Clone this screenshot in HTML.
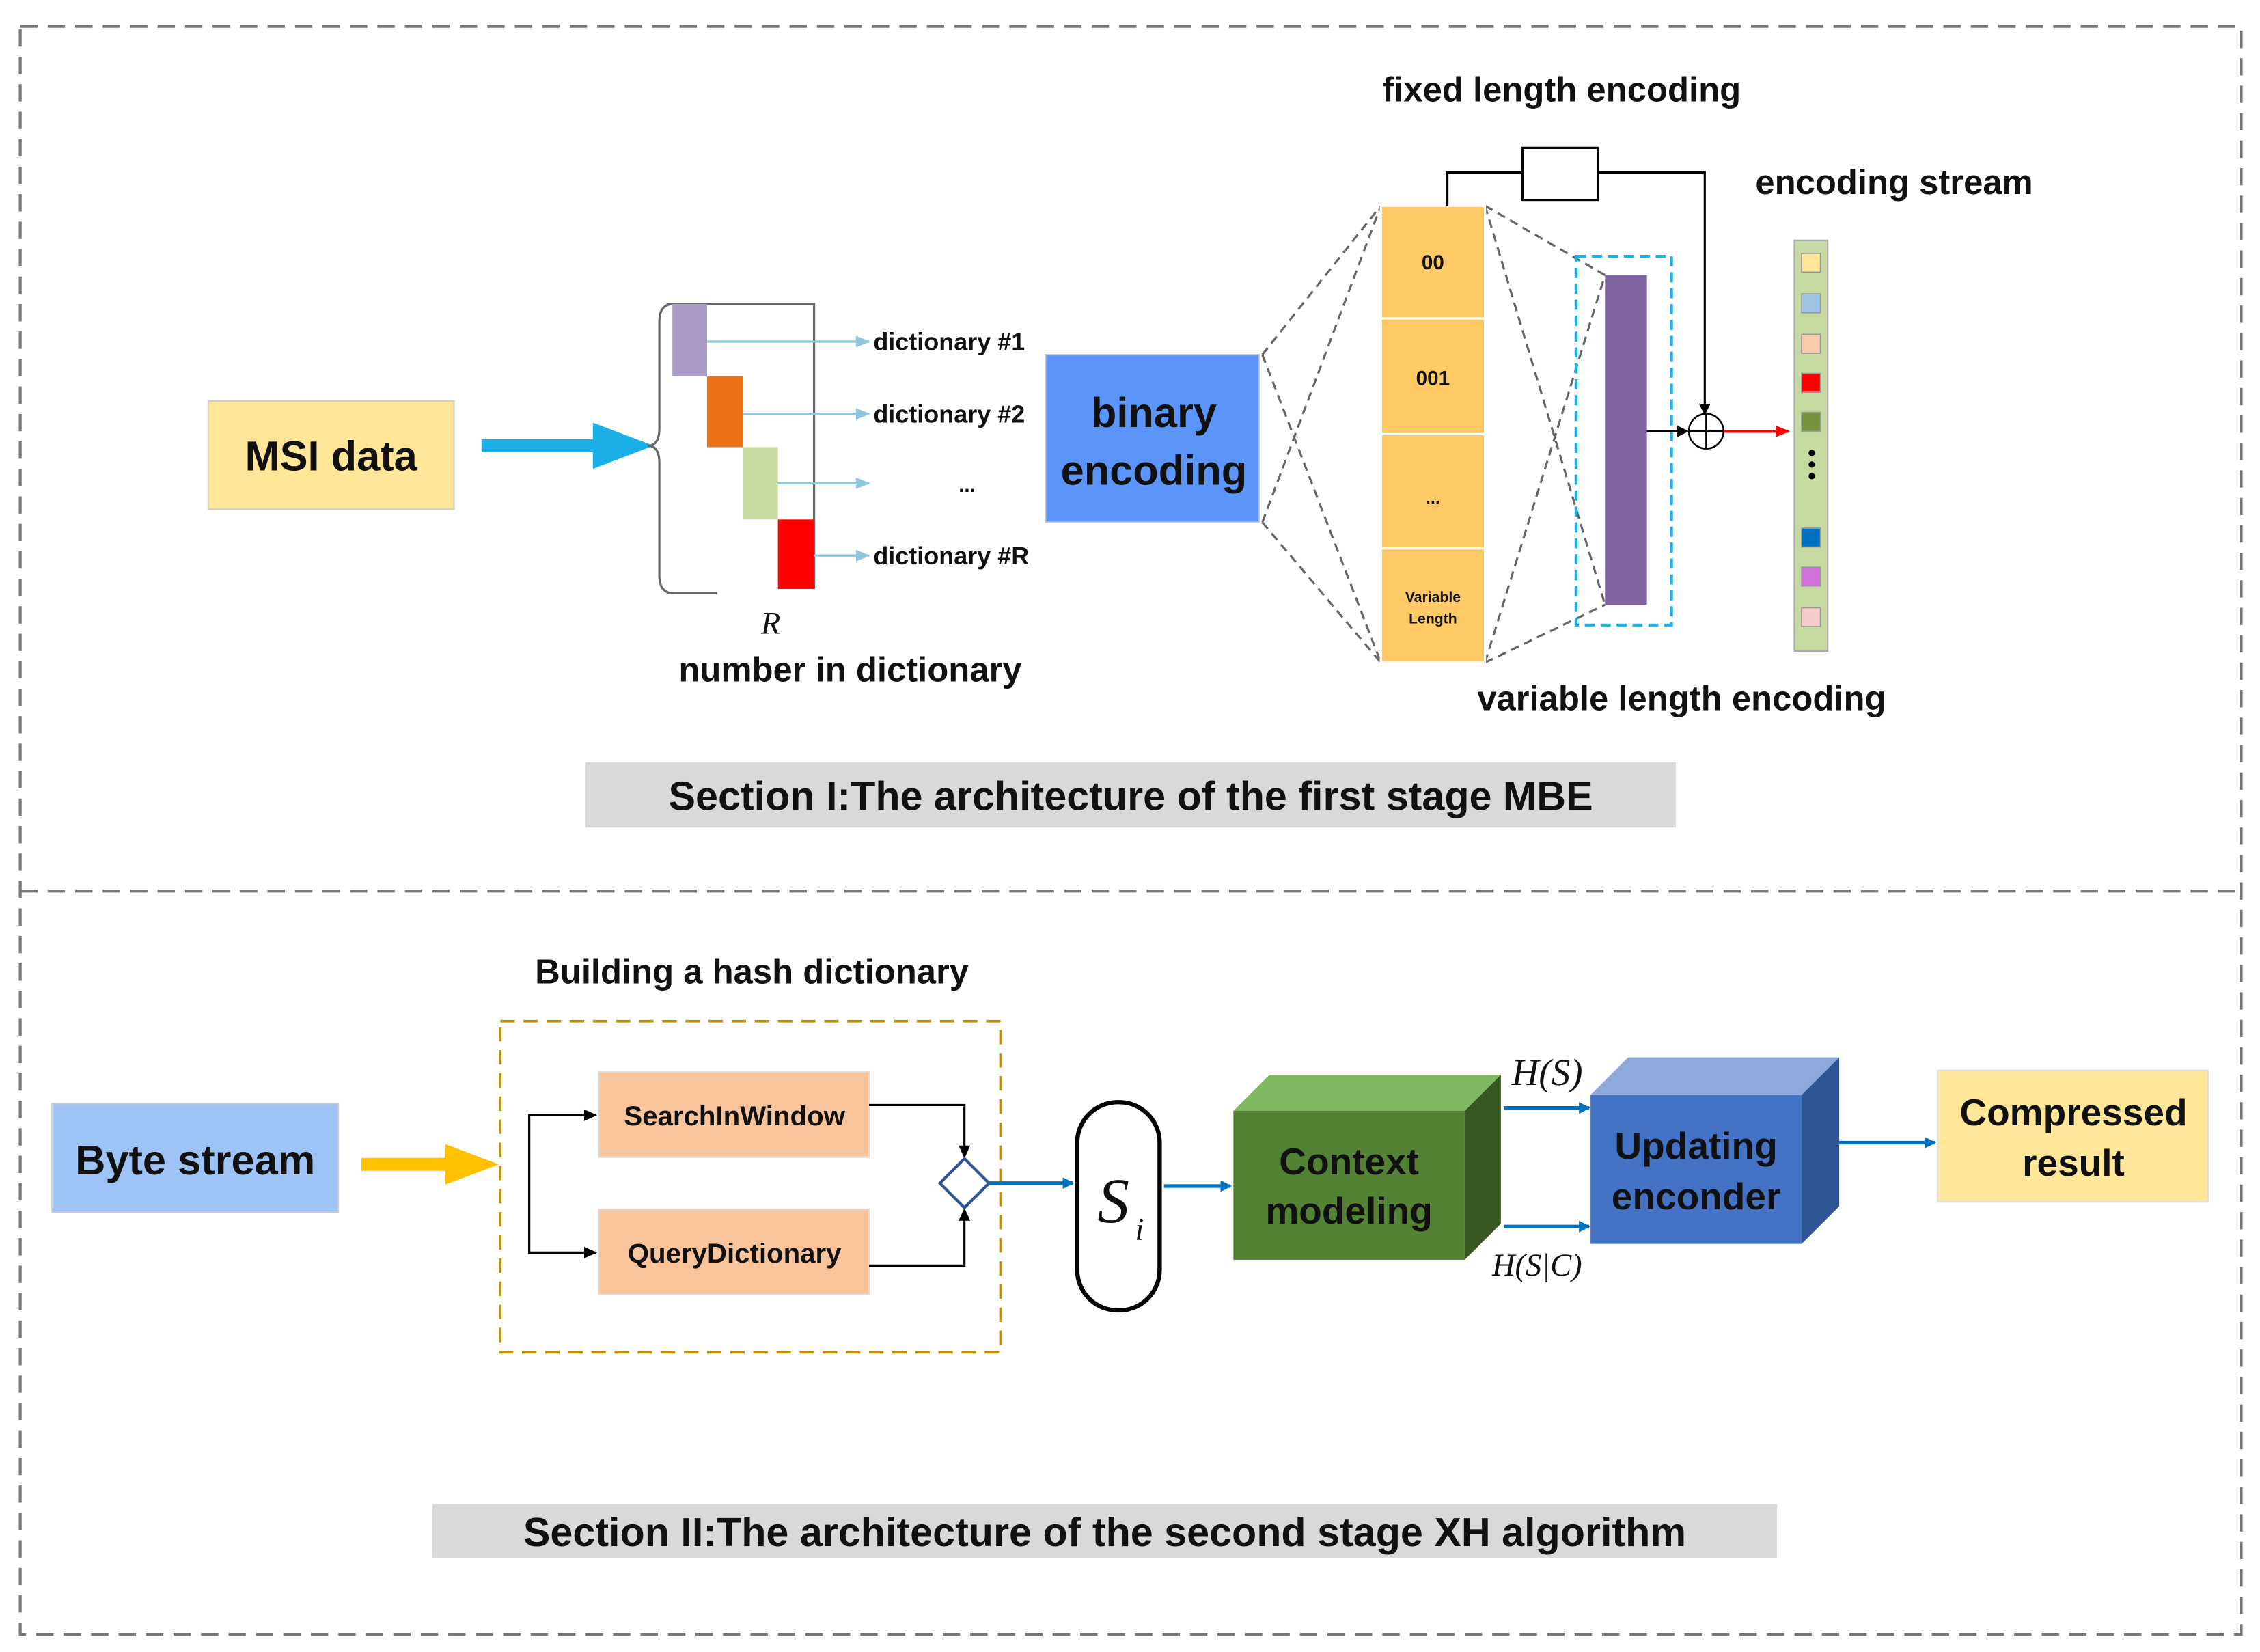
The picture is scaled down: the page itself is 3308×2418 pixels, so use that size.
<!DOCTYPE html>
<html><head><meta charset="utf-8"><style>
html,body{margin:0;padding:0;background:#fff;}
svg{display:block;}
text{font-family:"Liberation Sans",sans-serif;font-weight:bold;fill:#111;}
.s{font-family:"Liberation Serif",serif;font-style:italic;font-weight:normal;}
</style></head><body>
<svg width="3308" height="2418" viewBox="0 0 1563 1142" xmlns="http://www.w3.org/2000/svg">
<defs>
<marker id="ab" markerWidth="8" markerHeight="8" refX="7" refY="4" orient="auto" markerUnits="userSpaceOnUse"><path d="M0,0L8,4L0,8z" fill="#0070C0"/></marker>
<marker id="lb" markerWidth="10" markerHeight="8" refX="9" refY="4" orient="auto" markerUnits="userSpaceOnUse"><path d="M0,0L10,4L0,8z" fill="#8CC8DC"/></marker>
<marker id="bk" markerWidth="8" markerHeight="8" refX="7" refY="4" orient="auto" markerUnits="userSpaceOnUse"><path d="M0,0L8,4L0,8z" fill="#000"/></marker>
<marker id="rd" markerWidth="10" markerHeight="8" refX="9" refY="4" orient="auto" markerUnits="userSpaceOnUse"><path d="M0,0L10,4L0,8z" fill="#f00"/></marker>
</defs>
<rect x="14" y="18" width="1536" height="1112" fill="none" stroke="#777" stroke-width="2" stroke-dasharray="12,7"/>
<line x1="14" y1="616" x2="1550" y2="616" stroke="#777" stroke-width="2" stroke-dasharray="12,7"/>

<!-- Section I -->
<rect x="144" y="277" width="170" height="75" fill="#FFE699" stroke="#ccc"/>
<text x="229" y="325" font-size="29" text-anchor="middle">MSI data</text>
<line x1="333" y1="308" x2="420" y2="308" stroke="#1AAFE6" stroke-width="9"/>
<path d="M410,292L452,308L410,324z" fill="#1AAFE6"/>
<path d="M466,210 Q456,210 456,222 L456,296 Q456,308 448,308 Q456,308 456,320 L456,398 Q456,410 466,410" fill="none" stroke="#666" stroke-width="1.5"/>
<path d="M461,210H563V407 M461,410H496" fill="none" stroke="#666" stroke-width="1.5"/>
<rect x="465" y="210" width="24" height="50" fill="#A99BC5"/>
<rect x="489" y="260" width="25" height="49" fill="#E97316"/>
<rect x="514" y="309" width="24" height="50" fill="#C5D9A0"/>
<rect x="538" y="359" width="25" height="48" fill="#FF0000"/>
<g stroke="#8CC8DC" stroke-width="1.5" marker-end="url(#lb)">
<line x1="489" y1="236" x2="601" y2="236"/><line x1="514" y1="286" x2="601" y2="286"/>
<line x1="538" y1="334" x2="601" y2="334"/><line x1="563" y1="384" x2="601" y2="384"/></g>
<text x="604" y="242" font-size="17">dictionary #1</text>
<text x="604" y="292" font-size="17">dictionary #2</text>
<text x="663" y="340" font-size="14">...</text>
<text x="604" y="390" font-size="17">dictionary #R</text>
<text x="533" y="438" font-size="22" class="s" text-anchor="middle">R</text>
<text x="588" y="471" font-size="24" text-anchor="middle">number in dictionary</text>

<rect x="723" y="245" width="148" height="116" fill="#5B95F9" stroke="#ccc"/>
<text x="798" y="295" font-size="29" text-anchor="middle">binary</text>
<text x="798" y="335" font-size="29" text-anchor="middle">encoding</text>
<g stroke="#666" stroke-width="1.5" stroke-dasharray="6,4">
<line x1="873" y1="245" x2="955" y2="142"/><line x1="873" y1="361" x2="955" y2="458"/>
<line x1="873" y1="245" x2="955" y2="458"/><line x1="873" y1="361" x2="955" y2="142"/>
<line x1="1027" y1="142" x2="1110" y2="190"/><line x1="1027" y1="458" x2="1110" y2="418"/>
<line x1="1027" y1="142" x2="1110" y2="418"/><line x1="1027" y1="458" x2="1110" y2="190"/>
</g>
<g fill="#FFC966" stroke="#fff" stroke-width="1.5">
<rect x="955" y="142" width="72" height="78"/><rect x="955" y="220" width="72" height="80"/>
<rect x="955" y="300" width="72" height="79"/><rect x="955" y="379" width="72" height="79"/></g>
<text x="991" y="186" font-size="14" text-anchor="middle">00</text>
<text x="991" y="266" font-size="14" text-anchor="middle">001</text>
<text x="991" y="348" font-size="12" text-anchor="middle" font-weight="normal">...</text>
<text x="991" y="416" font-size="10" text-anchor="middle">Variable</text>
<text x="991" y="431" font-size="10" text-anchor="middle">Length</text>

<rect x="1090" y="177" width="66" height="255" fill="none" stroke="#1AAFE6" stroke-width="2" stroke-dasharray="7,4"/>
<rect x="1110" y="190" width="29" height="228" fill="#8064A2"/>
<path d="M1001,142V119H1053 M1105,119H1179V286" fill="none" stroke="#000" stroke-width="1.5" marker-end="url(#bk)"/>
<rect x="1053" y="102" width="52" height="36" fill="#fff" stroke="#000" stroke-width="1.5"/>
<circle cx="1180" cy="298" r="12" fill="#fff" stroke="#000" stroke-width="1.2"/>
<path d="M1168,298H1192M1180,286V310" stroke="#000" stroke-width="1.2"/>
<line x1="1139" y1="298" x2="1167" y2="298" stroke="#000" stroke-width="1.5" marker-end="url(#bk)"/>
<line x1="1192" y1="298" x2="1237" y2="298" stroke="#f00" stroke-width="2" marker-end="url(#rd)"/>
<rect x="1241" y="166" width="23" height="284" fill="#C5D9A0" stroke="#aaa"/>
<g stroke="#999" stroke-width="0.8">
<rect x="1246" y="175" width="13" height="13" fill="#FFE699"/><rect x="1246" y="203" width="13" height="13" fill="#9DC3E6"/>
<rect x="1246" y="231" width="13" height="13" fill="#F8CBAD"/><rect x="1246" y="258" width="13" height="13" fill="#FF0000"/>
<rect x="1246" y="285" width="13" height="13" fill="#76923C"/><rect x="1246" y="365" width="13" height="13" fill="#0070C0"/>
<rect x="1246" y="392" width="13" height="13" fill="#D070D8"/><rect x="1246" y="420" width="13" height="13" fill="#F8CBCB"/></g>
<circle cx="1253" cy="313" r="2.2" fill="#000"/><circle cx="1253" cy="321" r="2.2" fill="#000"/><circle cx="1253" cy="329" r="2.2" fill="#000"/>
<text x="1080" y="70" font-size="24" text-anchor="middle">fixed length encoding</text>
<text x="1310" y="134" font-size="24" text-anchor="middle">encoding stream</text>
<text x="1163" y="491" font-size="24" text-anchor="middle">variable length encoding</text>
<rect x="405" y="527" width="754" height="45" fill="#D9D9D9"/>
<text x="782" y="560" font-size="28" text-anchor="middle">Section I:The architecture of the first stage MBE</text>

<!-- Section II -->
<text x="520" y="680" font-size="24" text-anchor="middle">Building a hash dictionary</text>
<rect x="346" y="706" width="346" height="229" fill="none" stroke="#C09000" stroke-width="1.8" stroke-dasharray="10,6"/>
<rect x="36" y="763" width="198" height="75" fill="#9DC3F7" stroke="#ccc"/>
<text x="135" y="812" font-size="29" text-anchor="middle">Byte stream</text>
<line x1="250" y1="805" x2="315" y2="805" stroke="#FFC000" stroke-width="9"/>
<path d="M308,791L345,805L308,819z" fill="#FFC000"/>
<rect x="414" y="741" width="187" height="59" fill="#F8C49C" stroke="#ddd"/>
<text x="508" y="778" font-size="19" text-anchor="middle">SearchInWindow</text>
<rect x="414" y="836" width="187" height="59" fill="#F8C49C" stroke="#ddd"/>
<text x="508" y="873" font-size="19" text-anchor="middle">QueryDictionary</text>
<path d="M412,771H366V866H412" fill="none" stroke="#000" stroke-width="1.5"/>
<path d="M404,767L413,771L404,775zM404,862L413,866L404,870z" fill="#000"/>
<path d="M601,764H667V799 M601,875H667V837" fill="none" stroke="#000" stroke-width="1.5"/>
<path d="M663,792L667,801L671,792zM663,844L667,835L671,844z" fill="#000"/>
<path d="M667,801L684,818L667,835L650,818z" fill="#fff" stroke="#2F5597" stroke-width="2"/>
<line x1="684" y1="818" x2="742" y2="818" stroke="#0070C0" stroke-width="2.5" marker-end="url(#ab)"/>
<rect x="745" y="762" width="57" height="144" rx="28" fill="#fff" stroke="#000" stroke-width="3"/>
<text x="759" y="845" font-size="44" class="s">S</text><text x="785" y="857" font-size="22" class="s">i</text>
<line x1="805" y1="820" x2="851" y2="820" stroke="#0070C0" stroke-width="2.5" marker-end="url(#ab)"/>
<path d="M853,768L878,743H1038L1013,768z" fill="#7FB95F"/>
<path d="M1013,768L1038,743V846L1013,871z" fill="#385723"/>
<rect x="853" y="768" width="160" height="103" fill="#548235"/>
<text x="933" y="812" font-size="26" text-anchor="middle">Context</text>
<text x="933" y="846" font-size="26" text-anchor="middle">modeling</text>
<line x1="1040" y1="766" x2="1099" y2="766" stroke="#0070C0" stroke-width="2.5" marker-end="url(#ab)"/>
<line x1="1040" y1="848" x2="1099" y2="848" stroke="#0070C0" stroke-width="2.5" marker-end="url(#ab)"/>
<text x="1070" y="750" font-size="26" class="s" text-anchor="middle">H(S)</text>
<text x="1063" y="882" font-size="22" class="s" text-anchor="middle">H(S|C)</text>
<path d="M1100,757L1126,731H1272L1246,757z" fill="#8EA9DB"/>
<path d="M1246,757L1272,731V834L1246,860z" fill="#2F5597"/>
<rect x="1100" y="757" width="146" height="103" fill="#4472C4"/>
<text x="1173" y="801" font-size="26" text-anchor="middle">Updating</text>
<text x="1173" y="836" font-size="26" text-anchor="middle">enconder</text>
<line x1="1272" y1="790" x2="1338" y2="790" stroke="#0070C0" stroke-width="2.5" marker-end="url(#ab)"/>
<rect x="1340" y="740" width="187" height="91" fill="#FFE699" stroke="#ddd"/>
<text x="1434" y="778" font-size="26" text-anchor="middle">Compressed</text>
<text x="1434" y="813" font-size="26" text-anchor="middle">result</text>
<rect x="299" y="1040" width="930" height="37" fill="#D9D9D9"/>
<text x="764" y="1069" font-size="28" text-anchor="middle">Section II:The architecture of the second stage  XH algorithm</text>
</svg>
</body></html>
